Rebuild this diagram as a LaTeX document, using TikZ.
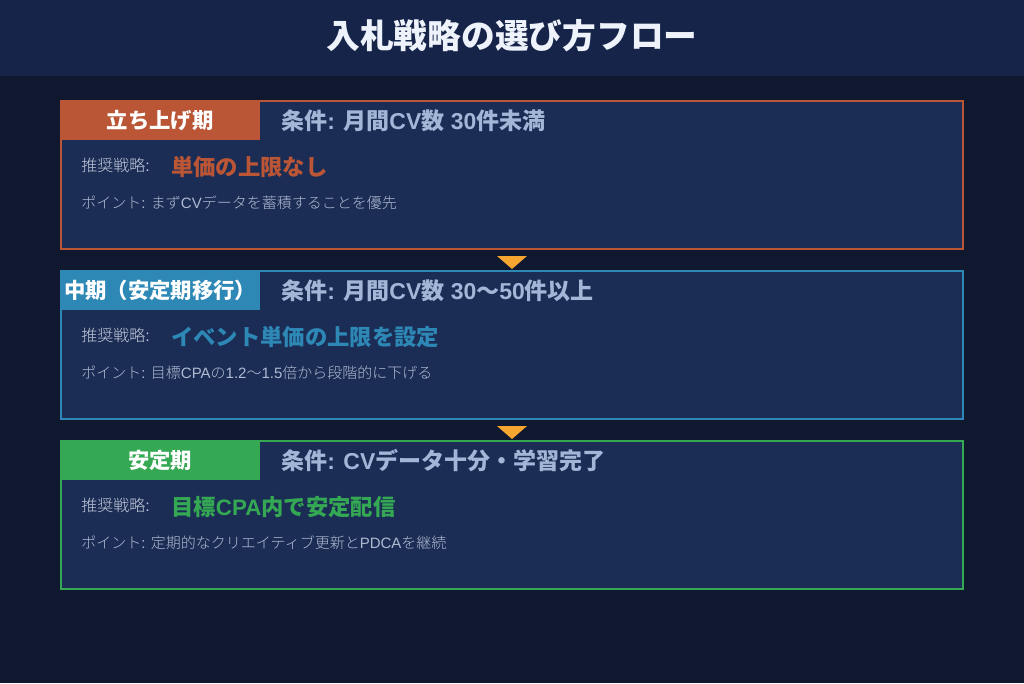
\documentclass[tikz,border=0pt]{standalone}
\usepackage{fontspec}
\setmainfont{Noto Sans CJK JP}
\newfontfamily\latf{Liberation Sans}
\newfontfamily\lightjp{Noto Sans CJK JP Light}
\newcommand{\lat}[1]{{\latf #1}}
\usetikzlibrary{calc}
\definecolor{bgc}{HTML}{10182F}
\definecolor{titlebar}{HTML}{16244A}
\definecolor{boxfill}{HTML}{1C2D55}
\definecolor{orangec}{HTML}{BA5636}
\definecolor{bluec}{HTML}{2E88B6}
\definecolor{greenc}{HTML}{34A853}
\definecolor{condc}{HTML}{A4B6D8}
\definecolor{recc}{HTML}{C4CCDD}
\definecolor{pointc}{HTML}{AEBAD2}
\definecolor{arrowc}{HTML}{F6A530}
\definecolor{titlec}{HTML}{EEF2FA}
\tikzset{
  stagebox/.style={draw=#1, line width=1.5pt, fill=boxfill, minimum width=676.5pt, minimum height=111pt, inner sep=0pt},
  stagelabel/.style={fill=#1, minimum width=150pt, minimum height=30pt, inner sep=0pt, anchor=north west, text=white, font=\bfseries\fontsize{16pt}{18pt}\selectfont},
  condtext/.style={anchor=west, inner sep=0pt, text=condc, font=\bfseries\fontsize{17.25pt}{19pt}\selectfont},
  rectext/.style={anchor=west, inner sep=0pt, text=recc, font=\lightjp\fontsize{12pt}{14pt}\selectfont},
  valtext/.style={anchor=west, inner sep=0pt, text=#1, font=\bfseries\fontsize{16.75pt}{18pt}\selectfont},
  pointtext/.style={anchor=west, inner sep=0pt, text=pointc, font=\lightjp\fontsize{11.25pt}{13pt}\selectfont},
  flowarrow/.style={fill=arrowc}
}
\begin{document}
\begin{tikzpicture}[x=0.75pt,y=-0.75pt]
\useasboundingbox (0,0) rectangle (1024,683);
\fill[bgc] (0,0) rectangle (1024,683);
\fill[titlebar] (0,0) rectangle (1024,76);
\node[text=titlec, font=\bfseries\fontsize{25.3pt}{28pt}\selectfont, inner sep=0pt] (title) at (512,36) {入札戦略の選び方フロー};

% stage 1
\node[stagebox=orangec] (b1) at (512,175) {};
\node[stagelabel=orangec] (l1) at (b1.north west) {立ち上げ期};
\node[condtext] (c1) at (281,121) {条件\lat{: }月間\lat{CV}数\lat{ 30}件未満};
\node[rectext] (r1) at (81,165) {推奨戦略\lat{:}};
\node[valtext=orangec] (v1) at (171,167) {単価の上限なし};
\node[pointtext] (p1) at (81,203) {ポイント\lat{: }まず\lat{CV}データを蓄積することを優先};

% stage 2
\node[stagebox=bluec] (b2) at (512,345) {};
\node[stagelabel=bluec] (l2) at (b2.north west) {中期（安定期移行）};
\node[condtext] (c2) at (281,291) {条件\lat{: }月間\lat{CV}数\lat{ 30}～\lat{50}件以上};
\node[rectext] (r2) at (81,335) {推奨戦略\lat{:}};
\node[valtext=bluec] (v2) at (171,337) {イベント単価の上限を設定};
\node[pointtext] (p2) at (81,373) {ポイント\lat{: }目標\lat{CPA}の\lat{1.2}～\lat{1.5}倍から段階的に下げる};

% stage 3
\node[stagebox=greenc] (b3) at (512,515) {};
\node[stagelabel=greenc] (l3) at (b3.north west) {安定期};
\node[condtext] (c3) at (281,461) {条件\lat{: CV}データ十分・学習完了};
\node[rectext] (r3) at (81,505) {推奨戦略\lat{:}};
\node[valtext=greenc] (v3) at (171,507) {目標\lat{CPA}内で安定配信};
\node[pointtext] (p3) at (81,543) {ポイント\lat{: }定期的なクリエイティブ更新と\lat{PDCA}を継続};

% arrows
\fill[flowarrow] ($(b1.south)+(-15,6)$) -- ($(b1.south)+(15,6)$) -- ($(b2.north)+(0,-1)$) -- cycle;
\fill[flowarrow] ($(b2.south)+(-15,6)$) -- ($(b2.south)+(15,6)$) -- ($(b3.north)+(0,-1)$) -- cycle;
\end{tikzpicture}
\end{document}
